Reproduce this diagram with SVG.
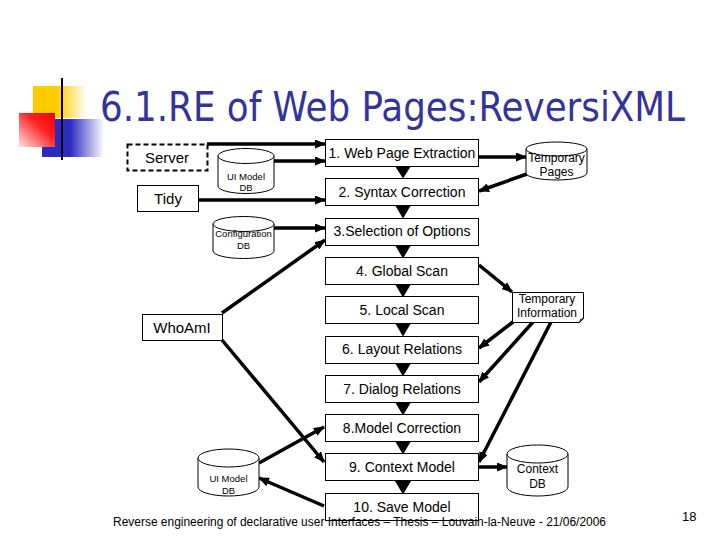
<svg xmlns="http://www.w3.org/2000/svg" width="720" height="540" viewBox="0 0 720 540">
<defs>
<linearGradient id="gLine" x1="0" y1="0" x2="1" y2="0"><stop offset="0" stop-color="#444"/><stop offset="0.5" stop-color="#999"/><stop offset="1" stop-color="#fff"/></linearGradient>
<linearGradient id="gY" x1="0" y1="0" x2="1" y2="0"><stop offset="0" stop-color="#FFCC00"/><stop offset="0.45" stop-color="#FFCC00"/><stop offset="1" stop-color="#fff"/></linearGradient>
<linearGradient id="gB" x1="0" y1="0" x2="1" y2="0"><stop offset="0" stop-color="#2B2BC0"/><stop offset="0.45" stop-color="#2B2BC0"/><stop offset="1" stop-color="#fff"/></linearGradient>
<linearGradient id="gR" x1="0" y1="1" x2="1" y2="0"><stop offset="0" stop-color="#FFE0E0"/><stop offset="0.6" stop-color="#F22"/><stop offset="1" stop-color="#E00"/></linearGradient>
<marker id="ah" markerUnits="userSpaceOnUse" markerWidth="11" markerHeight="9" refX="10" refY="4.5" orient="auto"><path d="M0,0 L11,4.5 L0,9 z" fill="#000"/></marker>
</defs>
<style>
text{font-family:"Liberation Sans",Arial,sans-serif;fill:#000}
.box{fill:#fff;stroke:#000;stroke-width:1}
.bt{font-size:14px;text-anchor:middle}
.db{fill:#fff;stroke:#000;stroke-width:1}
.dbt{font-size:9.5px;text-anchor:middle}
.dbt2{font-size:12px;text-anchor:middle}
.con line{stroke:#000;stroke-width:3.5;marker-end:url(#ah)}
.tri{fill:#000}
</style>
<rect width="720" height="540" fill="#fff"/>
<g id="decor">
<rect x="33" y="86" width="54" height="32" fill="url(#gY)"/>
<rect x="42" y="119" width="62" height="38" fill="url(#gB)"/>
<rect x="19" y="113" width="36" height="34" fill="url(#gR)"/>
<line x1="62" y1="78" x2="62" y2="160" stroke="#000" stroke-width="2"/>
<line x1="34" y1="141" x2="690" y2="141" stroke="url(#gLine)" stroke-width="3"/>
</g>
<text x="100" y="121" font-size="41" textLength="585" lengthAdjust="spacingAndGlyphs" style="font-family:'DejaVu Sans Condensed','DejaVu Sans',sans-serif;fill:#333399">6.1.RE of Web Pages:ReversiXML</text>
<g id="connectors" class="con">
<line x1="207" y1="144" x2="325" y2="144"/>
<line x1="274" y1="161" x2="325" y2="161"/>
<line x1="198" y1="200" x2="325" y2="200"/>
<line x1="274" y1="228" x2="325" y2="228"/>
<line x1="222" y1="313" x2="325" y2="240"/>
<line x1="479" y1="157" x2="526" y2="157"/>
<line x1="527" y1="174" x2="479" y2="191"/>
<line x1="479" y1="265" x2="512" y2="292"/>
<line x1="513" y1="322" x2="479" y2="348"/>
<line x1="533" y1="322" x2="479" y2="382"/>
<line x1="551" y1="322" x2="479" y2="462"/>
<line x1="222" y1="340" x2="324" y2="462"/>
<line x1="259" y1="463" x2="324" y2="427"/>
<line x1="324" y1="506" x2="259" y2="478"/>
<line x1="479" y1="467" x2="507" y2="467"/>
<polygon class="tri" points="395,166 411,166 403,178.5"/>
<polygon class="tri" points="395,205 411,205 403,218.5"/>
<polygon class="tri" points="395,245 411,245 403,258.5"/>
<polygon class="tri" points="395,284 411,284 403,297.5"/>
<polygon class="tri" points="395,323 411,323 403,336.5"/>
<polygon class="tri" points="395,363 411,363 403,376.5"/>
<polygon class="tri" points="395,402 411,402 403,415.5"/>
<polygon class="tri" points="395,441 411,441 403,454.5"/>
<polygon class="tri" points="395,481 411,481 403,494.5"/>
</g>
<g id="server"><rect x="127.5" y="144.5" width="80" height="26" fill="#fff" stroke="#000" stroke-width="2" stroke-dasharray="5,3"/><text class="bt" x="167" y="163" style="font-size:15px">Server</text></g>
<g id="tidy"><rect class="box" x="137.5" y="185.5" width="61" height="26"/><text class="bt" x="168" y="204" style="font-size:15px">Tidy</text></g>
<g id="uimodeldb1"><path class="db" d="M218,156 v30 a28,7.5 0 0 0 56,0 v-30"/><ellipse class="db" cx="246" cy="156" rx="28" ry="7.5"/><text class="dbt" x="246" y="180">UI Model</text><text class="dbt" x="246" y="191">DB</text></g>
<g id="configdb"><path class="db" d="M213,224 v27 a30.5,7.5 0 0 0 61,0 v-27"/><ellipse class="db" cx="243.5" cy="224" rx="30.5" ry="7.5"/><text class="dbt" x="243.5" y="237">Configuration</text><text class="dbt" x="243.5" y="249">DB</text></g>
<g id="whoami"><rect class="box" x="142.5" y="314.5" width="80" height="26"/><text class="bt" x="182" y="333" style="font-size:15px">WhoAmI</text></g>
<g id="uimodeldb2"><path class="db" d="M198,458 v29 a30.5,9 0 0 0 61,0 v-29"/><ellipse class="db" cx="228.5" cy="458" rx="30.5" ry="9"/><text class="dbt" x="228.5" y="482">UI Model</text><text class="dbt" x="228.5" y="494">DB</text></g>
<g id="s1"><rect class="box" x="325.5" y="139.5" width="153" height="27"/><text class="bt" x="402" y="158">1. Web Page Extraction</text></g>
<g id="s2"><rect class="box" x="325.5" y="178.5" width="153" height="27"/><text class="bt" x="402" y="197">2. Syntax Correction</text></g>
<g id="s3"><rect class="box" x="325.5" y="218.5" width="153" height="27"/><text class="bt" x="402" y="236">3.Selection of Options</text></g>
<g id="s4"><rect class="box" x="325.5" y="257.5" width="153" height="27"/><text class="bt" x="402" y="276">4. Global Scan</text></g>
<g id="s5"><rect class="box" x="325.5" y="296.5" width="153" height="27"/><text class="bt" x="402" y="315">5. Local Scan</text></g>
<g id="s6"><rect class="box" x="325.5" y="336.5" width="153" height="27"/><text class="bt" x="402" y="354">6. Layout Relations</text></g>
<g id="s7"><rect class="box" x="325.5" y="375.5" width="153" height="27"/><text class="bt" x="402" y="394">7. Dialog Relations</text></g>
<g id="s8"><rect class="box" x="325.5" y="414.5" width="153" height="27"/><text class="bt" x="402" y="433">8.Model Correction</text></g>
<g id="s9"><rect class="box" x="325.5" y="453.5" width="153" height="27"/><text class="bt" x="402" y="472">9. Context Model</text></g>
<g id="s10"><rect class="box" x="325.5" y="493.5" width="153" height="27"/><text class="bt" x="402" y="512">10. Save Model</text></g>
<g id="temppages"><path class="db" d="M526,149 v24 a30.5,7 0 0 0 61,0 v-24"/><ellipse class="db" cx="556.5" cy="149" rx="30.5" ry="7"/><text class="dbt2" x="556.5" y="162">Temporary</text><text class="dbt2" x="556.5" y="176">Pages</text></g>
<g id="tempinfo"><path class="box" d="M512.5,292.5 H583.5 V318.5 L579.5,322.5 H512.5 Z"/><path d="M579.5,322.5 L580.5,319.5 L583.5,318.5" fill="none" stroke="#000" stroke-width="1"/><text class="dbt2" x="547" y="303">Temporary</text><text class="dbt2" x="547" y="317">Information</text></g>
<g id="contextdb"><path class="db" d="M507,454 v33 a30.5,9 0 0 0 61,0 v-33"/><ellipse class="db" cx="537.5" cy="454" rx="30.5" ry="9"/><text class="dbt2" x="537.5" y="473">Context</text><text class="dbt2" x="537.5" y="488">DB</text></g>
<text x="113" y="526" font-size="12.5" textLength="493" lengthAdjust="spacingAndGlyphs">Reverse engineering of declarative user Interfaces – Thesis – Louvain-la-Neuve - 21/06/2006</text>
<text x="682" y="521" font-size="13">18</text>
</svg>
